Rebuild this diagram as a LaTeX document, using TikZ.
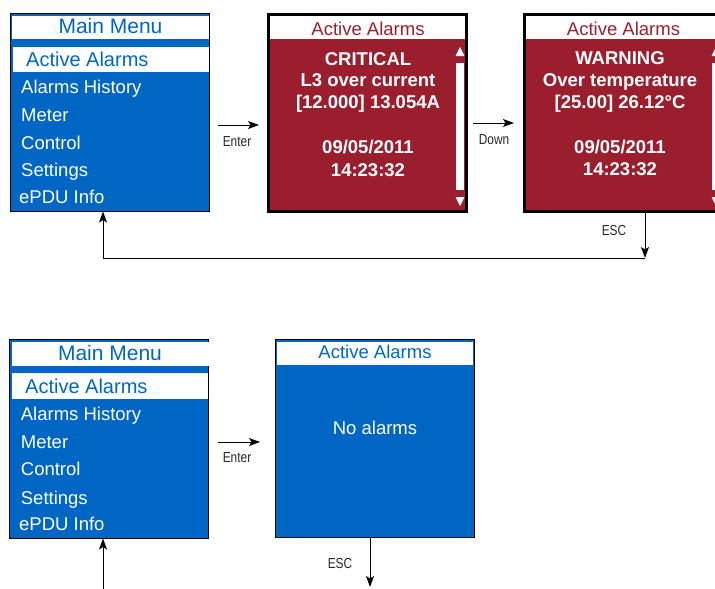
\documentclass[tikz,border=0pt]{standalone}
\usepackage{fontspec}
\setmainfont{Liberation Sans}
\newfontfamily\narrowfont[FakeStretch=0.82]{Liberation Sans}
\usetikzlibrary{arrows.meta}
\definecolor{scrblue}{RGB}{0,102,196}
\definecolor{scrred}{RGB}{155,30,46}
\begin{document}
\begin{tikzpicture}[x=1pt,y=-1pt,
  screen/.style={draw=black, anchor=north west, inner sep=0pt, outer sep=0pt},
  bar/.style={fill=white, anchor=north west, inner sep=0pt, outer sep=0pt},
  item/.style={anchor=base west, inner sep=0pt, text=white, font=\fontsize{18.5}{20}\selectfont},
  hiitem/.style={anchor=base west, inner sep=0pt, text=scrblue, font=\fontsize{20}{22}\selectfont},
  menutitle/.style={anchor=base, inner sep=0pt, text=scrblue, font=\fontsize{21}{24}\selectfont},
  redtitle/.style={anchor=base, inner sep=0pt, text=scrred, font=\fontsize{18.5}{20}\selectfont},
  bluetitle/.style={anchor=base, inner sep=0pt, text=scrblue, font=\fontsize{18.5}{20}\selectfont},
  alarmtxt/.style={anchor=base, inner sep=0pt, text=white, font=\bfseries\fontsize{18.5}{20}\selectfont},
  plaintxt/.style={anchor=base, inner sep=0pt, text=white, font=\fontsize{18.5}{20}\selectfont},
  keylbl/.style={anchor=base, inner sep=0pt, text=black!85, font=\narrowfont\fontsize{14.5}{16}\selectfont},
  arr/.style={-{Stealth[length=11pt,width=8pt,inset=2.5pt]}, line width=0.9pt, draw=black}]
\useasboundingbox (0,0) rectangle (715,589);
\clip (0,0) rectangle (715,589);

% ===== Top main menu =====
\node[screen, fill=scrblue, line width=1.2pt, minimum width=199pt, minimum height=198pt] (menu1) at (10.5,13.5) {};
\node[bar, minimum width=197pt, minimum height=23pt] (menu1bar) at (12,16) {};
\node[bar, minimum width=196pt, minimum height=24.5pt] (menu1hi) at (13,47) {};
\node[menutitle] (m1title) at (110.5,34) {Main Menu};
\node[hiitem] (m1i1) at (26,66.7) {Active Alarms};
\node[item] (m1i2) at (21,93.3) {Alarms History};
\node[item] (m1i3) at (21,121) {Meter};
\node[item] (m1i4) at (21,149) {Control};
\node[item] (m1i5) at (21,176.7) {Settings};
\node[item] (m1i6) at (19,203.7) {ePDU Info};

% ===== Red box 1 =====
\node[screen, fill=scrred, line width=3pt, minimum width=198pt, minimum height=197pt] (red1) at (268.5,14.5) {};
\node[bar, minimum width=195pt, minimum height=23pt] (red1bar) at (270,16) {};
\node[redtitle] (r1title) at (368,35) {Active Alarms};
\node[alarmtxt] (r1a) at (368,65) {CRITICAL};
\node[alarmtxt] (r1b) at (368,86) {L3 over current};
\node[alarmtxt] (r1c) at (368,108) {[12.000] 13.054A};
\node[alarmtxt] (r1d) at (368,153) {09/05/2011};
\node[alarmtxt] (r1e) at (368,176) {14:23:32};
\fill[white] (456,63) rectangle (464,190);
\fill[white] (455.5,56) -- (464.5,56) -- (460,47) -- cycle;
\fill[white] (455.5,197) -- (464.5,197) -- (460,206) -- cycle;

% ===== Red box 2 =====
\node[screen, fill=scrred, line width=3pt, minimum width=198pt, minimum height=197pt] (red2) at (524.5,14.5) {};
\node[bar, minimum width=195pt, minimum height=23pt] (red2bar) at (526,16) {};
\node[redtitle] (r2title) at (623.5,35) {Active Alarms};
\node[alarmtxt] (r2a) at (620,64) {WARNING};
\node[alarmtxt] (r2b) at (620,86) {Over temperature};
\node[alarmtxt] (r2c) at (620,108) {[25.00] 26.12°C};
\node[alarmtxt] (r2d) at (620,153) {09/05/2011};
\node[alarmtxt] (r2e) at (620,175.5) {14:23:32};
\fill[white] (712,63) rectangle (720,190);
\fill[white] (711.5,56) -- (720.5,56) -- (716,47) -- cycle;
\fill[white] (711.5,197) -- (720.5,197) -- (716,206) -- cycle;

% ===== Top connectors =====
\coordinate (enter1s) at (218,125);
\coordinate (enter1e) at (259,125);
\draw[arr] (enter1s) -- (enter1e);
\node[keylbl] (enter1lbl) at (237,146.5) {Enter};
\coordinate (down1s) at (473,123);
\coordinate (down1e) at (514,123);
\draw[arr] (down1s) -- (down1e);
\node[keylbl] (down1lbl) at (494,144) {Down};
\coordinate (esc1e) at (645,258);
\draw[arr] (red2.south -| esc1e) -- (esc1e);
\node[keylbl] (esc1lbl) at (614,235) {ESC};
\coordinate (loopL) at (103,258);
\draw[line width=0.9pt] (esc1e) -- (loopL);
\draw[arr] (loopL) -- (menu1.south -| loopL);

% ===== Bottom main menu =====
\node[screen, fill=scrblue, line width=1.2pt, minimum width=199pt, minimum height=199pt] (menu2) at (9.5,339.5) {};
\node[bar, minimum width=197pt, minimum height=24pt] (menu2bar) at (12,342) {};
\node[bar, minimum width=196pt, minimum height=26pt] (menu2hi) at (12,373) {};
\node[menutitle] (m2title) at (110,360.7) {Main Menu};
\node[hiitem] (m2i1) at (25,393.3) {Active Alarms};
\node[item] (m2i2) at (20.7,420) {Alarms History};
\node[item] (m2i3) at (20.7,448) {Meter};
\node[item] (m2i4) at (20.7,475) {Control};
\node[item] (m2i5) at (20.7,504) {Settings};
\node[item] (m2i6) at (19,530) {ePDU Info};

% ===== Blue box 2 =====
\node[screen, fill=scrblue, line width=1.2pt, minimum width=199pt, minimum height=198pt] (blue2) at (275.5,339.5) {};
\node[bar, minimum width=196pt, minimum height=23pt] (blue2bar) at (277,342) {};
\node[bluetitle] (b2title) at (375,358.3) {Active Alarms};
\node[plaintxt] (b2txt) at (375,434) {No alarms};

% ===== Bottom connectors =====
\coordinate (enter2s) at (218,442);
\coordinate (enter2e) at (260,442);
\draw[arr] (enter2s) -- (enter2e);
\node[keylbl] (enter2lbl) at (237,462.3) {Enter};
\coordinate (esc2e) at (370,587);
\draw[arr] (blue2.south -| esc2e) -- (esc2e);
\node[keylbl] (esc2lbl) at (340,568) {ESC};
\coordinate (up2s) at (103,589);
\draw[arr] (up2s) -- (menu2.south -| up2s);
\end{tikzpicture}
\end{document}
